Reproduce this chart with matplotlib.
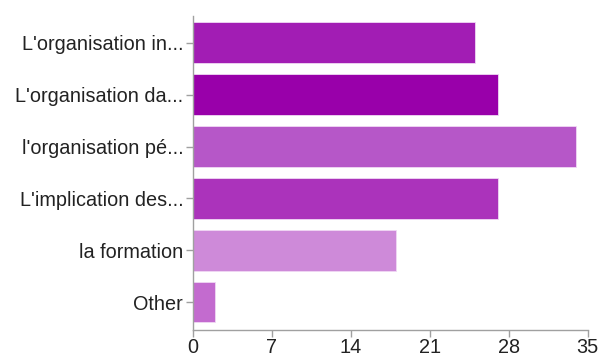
import matplotlib
matplotlib.use('Agg')
import matplotlib.pyplot as plt

labels = ["L'organisation in...", "L'organisation da...", "l'organisation pé...",
          "L'implication des...", "la formation", "Other"]
values = [25, 27, 34, 27, 18, 2]
colors = ['#a21db4', '#9900aa', '#b657c8', '#ab33bb', '#ce8ad9', '#c36bcf']
xticks = [0, 7, 14, 21, 28, 35]

plt.rcParams['font.family'] = ['Liberation Sans', 'DejaVu Sans']

fig = plt.figure(figsize=(6.01, 3.56), dpi=100)
ax = fig.add_axes([0.321, 0.073, 0.657, 0.882])

pos = list(range(len(labels)))
ax.barh(pos, values, height=0.79, color=colors, edgecolor='#f0d8f4', linewidth=0.6)

ax.set_ylim(5.54, -0.52)
ax.set_xlim(0, 35)
ax.set_yticks(pos)
ax.set_yticklabels(labels)
ax.set_xticks(xticks)
ax.set_xticklabels([str(t) for t in xticks])

for s in ['top', 'right']:
    ax.spines[s].set_visible(False)
for s in ['left', 'bottom']:
    ax.spines[s].set_color('#a0a0a0')
    ax.spines[s].set_linewidth(1)

ax.tick_params(axis='both', colors='#a0a0a0', labelcolor='#222222', labelsize=14.3, length=5, width=1)
ax.tick_params(axis='y', pad=2)
ax.tick_params(axis='x', pad=1)

fig.savefig('out.png', dpi=100)
